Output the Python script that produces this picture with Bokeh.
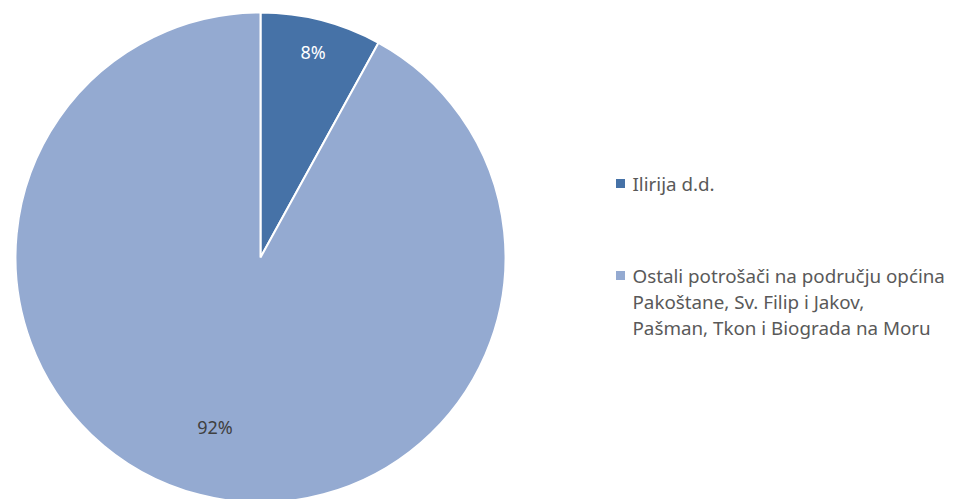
import math
from bokeh.plotting import figure
from bokeh.models import ColumnDataSource, Range1d
from bokeh.core.properties import value
from bokeh.embed import file_html
from bokeh.resources import INLINE

categories = ["Ilirija d.d.", "Ostali potrošači na području općina Pakoštane, Sv. Filip i Jakov, Pašman, Tkon i Biograda na Moru"]
legend_lines = [["Ilirija d.d."],
                ["Ostali potrošači na području općina", "Pakoštane, Sv. Filip i Jakov,", "Pašman, Tkon i Biograda na Moru"]]
shares = [8, 92]
labels = ["8%", "92%"]
colors = ["#4672A7", "#94AAD1"]
label_colors = ["#FFFFFF", "#404040"]

W, H = 958, 499
FONT = "Noto Sans"
p = figure(width=W, height=H, output_backend="svg", toolbar_location=None,
           x_range=Range1d(0, W), y_range=Range1d(0, H), min_border=0,
           outline_line_color=None)
p.axis.visible = False
p.grid.visible = False
p.background_fill_color = "white"
p.border_fill_color = "white"

cx, cy, r = 260, H - 257, 245
total = sum(shares)
starts, ends = [], []
a = math.pi / 2
for s in shares:
    e = a - s / total * 2 * math.pi
    starts.append(e)
    ends.append(a)
    a = e

src = ColumnDataSource(dict(start=starts, end=ends, color=colors))
p.wedge(x=cx, y=cy, radius=r, start_angle="start", end_angle="end",
        fill_color="color", line_color="white", line_width=2, source=src)

label_rf = [0.865, 0.715]
lx, ly = [], []
for st, en, f in zip(starts, ends, label_rf):
    mid = (st + en) / 2
    lx.append(cx + f * r * math.cos(mid) - (0 if f > 0.8 else 2))
    ly.append(cy + f * r * math.sin(mid))
p.text(x=lx, y=ly, text=labels, text_color=label_colors, text_font=value(FONT),
       text_font_size="18px", text_align="center", text_baseline="middle")

# legend
lg_y0 = [H - 183, H - 275]
for i, lines in enumerate(legend_lines):
    p.rect(x=[620], y=[lg_y0[i]], width=9, height=9, fill_color=colors[i], line_color=None)
    ys = [lg_y0[i] - 26 * k for k in range(len(lines))]
    p.text(x=[632] * len(lines), y=ys, text=lines, text_color="#595959",
           text_font=value(FONT), text_font_size="18.8px",
           text_align="left", text_baseline="middle")

open("out.html", "w").write(file_html(p, INLINE))
